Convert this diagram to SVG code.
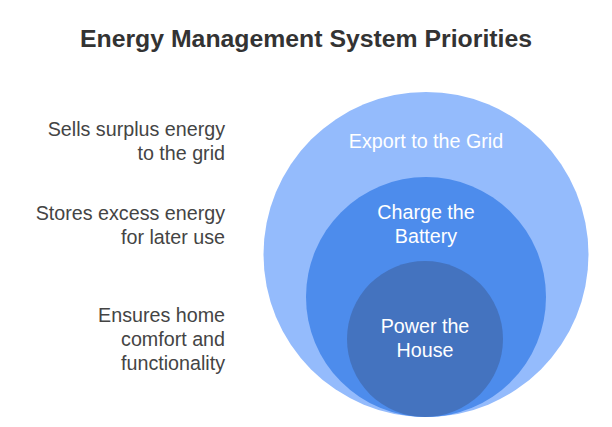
<svg xmlns="http://www.w3.org/2000/svg" width="612" height="427" viewBox="0 0 612 427">
<style>
.t{font-family:"Liberation Sans",Arial,sans-serif;font-size:19.7px;}
.l{fill:#444444;text-anchor:end;}
.c{fill:#ffffff;text-anchor:middle;}
.title{font-family:"Liberation Sans",Arial,sans-serif;font-size:24.8px;font-weight:bold;fill:#333333;text-anchor:middle;}
</style>
<rect width="612" height="427" fill="#ffffff"/>
<text class="title" x="306" y="47">Energy Management System Priorities</text>
<g id="export">
<circle cx="426" cy="254.5" r="162.5" fill="#94BBFC"/>
<text class="t c" x="426" y="148">Export to the Grid</text>
</g>
<g id="battery">
<circle cx="426" cy="297" r="120" fill="#4D8CEC"/>
<text class="t c" x="426" y="219">Charge the</text>
<text class="t c" x="426" y="243">Battery</text>
</g>
<g id="house">
<circle cx="425" cy="339" r="78" fill="#4473BF"/>
<text class="t c" x="425" y="333">Power the</text>
<text class="t c" x="425" y="357">House</text>
</g>
<g id="labels">
<text class="t l" x="225" y="136">Sells surplus energy</text>
<text class="t l" x="225" y="160">to the grid</text>
<text class="t l" x="225" y="220">Stores excess energy</text>
<text class="t l" x="225" y="244">for later use</text>
<text class="t l" x="225" y="322">Ensures home</text>
<text class="t l" x="225" y="346">comfort and</text>
<text class="t l" x="225" y="370">functionality</text>
</g>
<g id="connectors"/>
</svg>
